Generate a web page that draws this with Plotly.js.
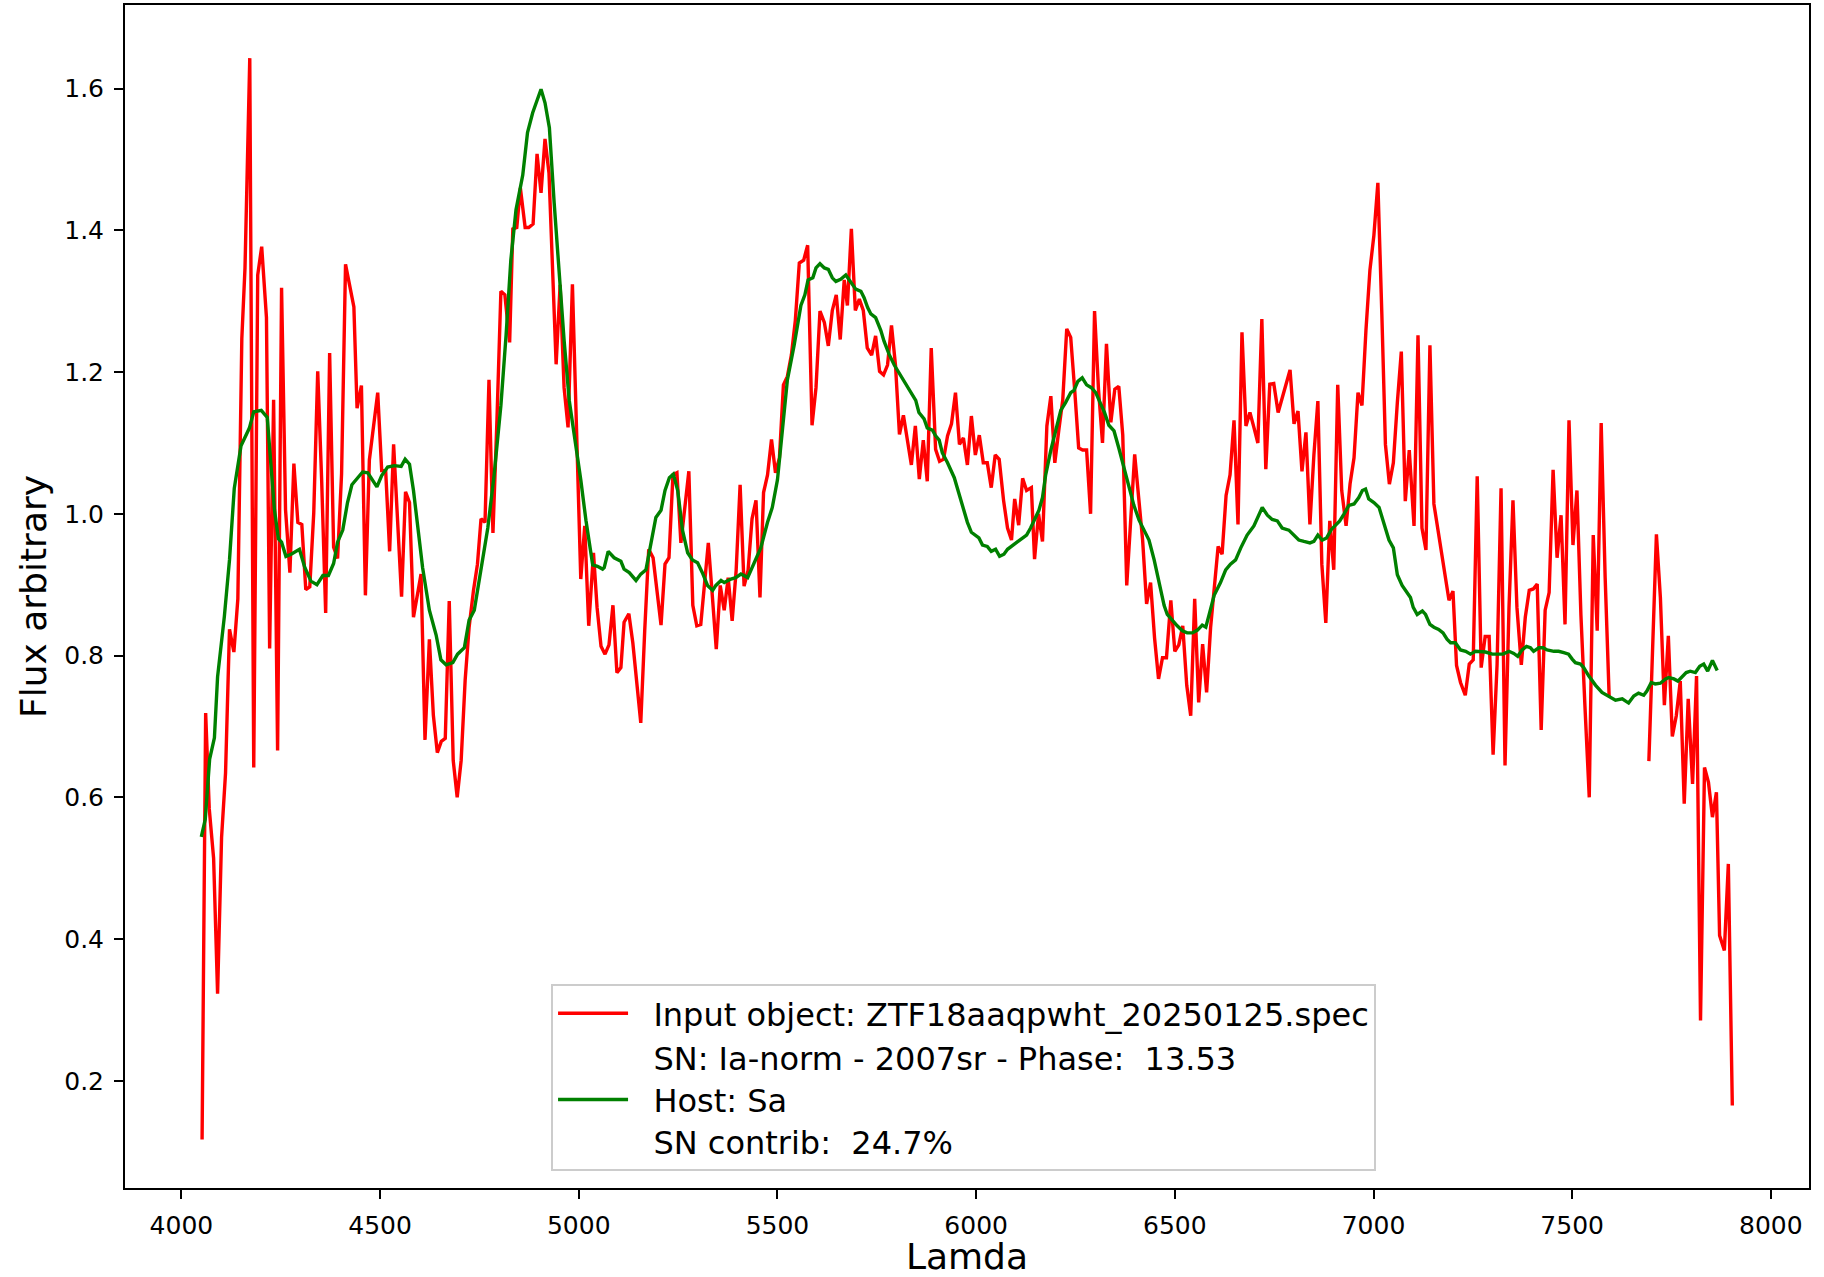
<!DOCTYPE html>
<html>
<head>
<meta charset="utf-8">
<script src="https://cdn.plot.ly/plotly-3.0.1.min.js"></script>
<style>html,body{margin:0;padding:0;background:#fff;}#chart{width:1824px;height:1277px;}</style>
</head>
<body>
<div id="chart"></div>
<script>
// Input object spectrum (red)
const inputLambda = [4052,4061,4070,4081,4091,4101,4111,4121,4132,4142,4152,4160,4172,4182,4192,4202,4214,4222,4232,4242,4252,4262,4273,4283,4293,4303,4313,4323,4333,4343,4353,4363,4373,4383,4393,4403,4413,4434,4442,4453,4463,4473,4494,4504,4514,4524,4534,4544,4554,4564,4574,4584,4603,4613,4624,4634,4644,4654,4664,4674,4684,4694,4704,4714,4724,4735,4745,4754,4764,4774,4784,4794,4804,4814,4826,4834,4844,4853,4865,4874,4885,4895,4905,4915,4925,4943,4953,4963,4973,4984,4994,5005,5015,5025,5037,5046,5056,5066,5076,5086,5096,5106,5114,5126,5136,5146,5156,5166,5176,5187,5197,5207,5217,5227,5237,5247,5257,5267,5277,5287,5297,5307,5317,5326,5336,5346,5356,5366,5376,5386,5396,5406,5416,5426,5436,5446,5456,5465,5475,5485,5495,5505,5515,5525,5535,5545,5555,5566,5576,5587,5597,5607,5618,5628,5638,5648,5658,5668,5676,5686,5696,5706,5716,5726,5737,5747,5757,5767,5777,5787,5797,5807,5817,5827,5837,5847,5857,5867,5877,5887,5898,5908,5918,5928,5938,5948,5958,5968,5978,5988,5998,6008,6018,6028,6038,6048,6058,6069,6079,6089,6097,6107,6117,6127,6139,6147,6157,6167,6178,6188,6198,6208,6218,6228,6238,6248,6258,6268,6278,6288,6298,6308,6318,6328,6339,6349,6359,6369,6379,6389,6399,6409,6419,6429,6439,6449,6459,6469,6479,6490,6500,6510,6520,6530,6540,6550,6560,6570,6580,6590,6598,6609,6619,6629,6639,6649,6659,6669,6679,6689,6699,6709,6719,6729,6739,6749,6760,6770,6780,6790,6800,6810,6820,6830,6840,6850,6860,6870,6880,6890,6900,6910,6920,6931,6941,6951,6961,6971,6981,6991,7001,7011,7021,7030,7040,7050,7060,7070,7080,7090,7102,7112,7122,7132,7142,7152,7190,7200,7209,7219,7231,7241,7251,7261,7271,7281,7291,7301,7311,7321,7331,7341,7351,7361,7372,7382,7392,7402,7412,7422,7432,7442,7452,7462,7472,7482,7492,7502,7512,7522,7532,7543,7553,7563,7573,7583,7593,7640,7693,7712,7722,7732,7742,7752,7762,7772,7782,7792,7803,7813,7823,7833,7843,7853,7863,7871,7883,7893,7903];
const inputFlux = [0.117,0.719,0.584,0.514,0.323,0.543,0.634,0.837,0.805,0.880,1.247,1.347,1.643,0.642,1.337,1.377,1.277,0.810,1.161,0.666,1.319,1.006,0.917,1.071,0.988,0.985,0.893,0.897,1.001,1.201,1.046,0.860,1.227,0.953,0.937,1.056,1.352,1.292,1.149,1.181,0.885,1.076,1.171,1.061,1.061,0.947,1.098,0.986,0.883,1.031,1.016,0.854,0.915,0.681,0.823,0.716,0.663,0.679,0.683,0.877,0.652,0.600,0.652,0.765,0.840,0.892,0.929,0.993,0.988,1.189,0.973,1.132,1.314,1.309,1.242,1.402,1.404,1.460,1.404,1.404,1.409,1.508,1.453,1.529,1.481,1.211,1.323,1.178,1.122,1.324,1.132,0.908,0.983,0.842,0.945,0.868,0.813,0.802,0.815,0.871,0.776,0.783,0.847,0.859,0.818,0.758,0.705,0.836,0.950,0.938,0.885,0.843,0.929,0.938,1.055,1.058,0.959,1.009,1.060,0.871,0.842,0.844,0.899,0.959,0.885,0.809,0.899,0.864,0.910,0.849,0.920,1.041,0.898,0.920,0.993,1.019,0.882,1.030,1.055,1.105,1.058,1.079,1.182,1.194,1.224,1.273,1.354,1.358,1.379,1.125,1.178,1.286,1.270,1.237,1.287,1.309,1.246,1.330,1.294,1.402,1.287,1.303,1.287,1.234,1.224,1.251,1.201,1.196,1.210,1.266,1.210,1.112,1.139,1.104,1.069,1.124,1.049,1.104,1.046,1.234,1.091,1.074,1.077,1.110,1.127,1.171,1.098,1.107,1.069,1.138,1.083,1.111,1.072,1.072,1.037,1.083,1.077,1.019,0.980,0.963,1.021,0.984,1.050,1.033,1.037,0.936,1.000,0.961,1.124,1.166,1.072,1.118,1.161,1.261,1.249,1.175,1.093,1.090,1.090,1.000,1.286,1.175,1.100,1.240,1.129,1.176,1.180,1.111,0.899,0.991,1.084,1.023,0.963,0.873,0.903,0.825,0.767,0.797,0.797,0.878,0.806,0.815,0.842,0.758,0.715,0.880,0.734,0.816,0.748,0.839,0.892,0.954,0.943,1.026,1.055,1.132,0.985,1.256,1.124,1.143,1.122,1.100,1.275,1.063,1.183,1.184,1.143,1.164,1.185,1.203,1.127,1.145,1.060,1.115,0.985,1.083,1.159,0.929,0.846,0.990,0.921,1.182,1.033,0.983,1.042,1.079,1.171,1.153,1.259,1.344,1.393,1.467,1.282,1.098,1.042,1.072,1.157,1.229,1.018,1.090,0.983,1.252,0.980,0.949,1.238,1.014,0.878,0.891,0.786,0.762,0.744,0.788,0.794,1.053,0.783,0.827,0.827,0.660,0.787,1.036,0.645,0.868,1.019,0.868,0.787,0.854,0.892,0.894,0.901,0.695,0.864,0.889,1.062,0.938,0.998,0.844,1.132,0.956,1.033,0.857,0.730,0.600,0.970,0.835,1.128,0.910,0.743,null,0.651,0.971,0.882,0.730,0.828,0.686,0.715,0.764,0.591,0.739,0.619,0.771,0.285,0.642,0.621,0.572,0.607,0.405,0.384,0.506,0.165];

// Template / host fit (green)
const fitLambda = [4050,4060,4071,4083,4091,4108,4121,4133,4150,4171,4182,4201,4216,4226,4234,4244,4252,4263,4276,4297,4310,4326,4341,4356,4370,4383,4393,4406,4418,4429,4444,4456,4469,4481,4492,4504,4519,4536,4553,4563,4574,4584,4595,4607,4624,4641,4653,4666,4683,4695,4712,4724,4737,4754,4771,4787,4804,4817,4829,4842,4859,4871,4884,4896,4905,4915,4926,4938,4951,4963,4976,4989,5005,5018,5029,5035,5047,5060,5064,5074,5089,5106,5114,5127,5144,5156,5169,5181,5194,5207,5217,5228,5238,5249,5261,5274,5286,5299,5311,5324,5337,5345,5358,5366,5383,5395,5408,5425,5441,5458,5475,5487,5500,5513,5525,5542,5559,5569,5577,5589,5597,5607,5618,5628,5638,5647,5659,5672,5685,5697,5710,5718,5727,5735,5747,5760,5768,5781,5794,5806,5819,5831,5848,5856,5869,5877,5890,5898,5907,5915,5928,5945,5961,5978,5988,5999,6007,6016,6028,6038,6049,6059,6070,6079,6095,6112,6127,6137,6146,6158,6167,6175,6188,6200,6213,6225,6238,6246,6256,6267,6278,6290,6301,6312,6323,6334,6347,6359,6372,6385,6397,6410,6422,6435,6448,6460,6473,6481,6494,6506,6519,6531,6544,6557,6569,6578,6586,6599,6615,6628,6640,6653,6666,6682,6699,6709,6720,6733,6745,6758,6770,6787,6800,6812,6825,6840,6850,6860,6871,6882,6894,6904,6915,6926,6938,6951,6963,6972,6980,6988,7001,7014,7024,7039,7050,7060,7072,7085,7093,7100,7110,7123,7131,7142,7152,7164,7175,7185,7194,7206,7219,7232,7244,7257,7269,7282,7299,7311,7326,7341,7353,7363,7374,7385,7395,7403,7416,7427,7437,7454,7466,7479,7491,7500,7508,7521,7529,7542,7559,7575,7596,7609,7626,7642,7655,7667,7680,7688,7699,7709,7722,7735,7743,7756,7766,7777,7787,7797,7810,7821,7831,7841,7853,7865];
const fitFlux = [0.544,0.569,0.654,0.684,0.770,0.855,0.935,1.036,1.096,1.121,1.144,1.146,1.136,1.066,1.006,0.965,0.960,0.940,0.943,0.950,0.925,0.905,0.900,0.913,0.913,0.930,0.960,0.977,1.016,1.041,1.051,1.059,1.058,1.048,1.038,1.054,1.066,1.068,1.067,1.077,1.070,1.033,0.984,0.924,0.864,0.829,0.794,0.787,0.790,0.802,0.811,0.850,0.864,0.921,0.980,1.055,1.153,1.252,1.358,1.429,1.478,1.538,1.566,1.585,1.599,1.580,1.545,1.439,1.330,1.245,1.160,1.111,1.048,0.991,0.949,0.928,0.926,0.922,0.924,0.947,0.938,0.933,0.922,0.917,0.906,0.915,0.921,0.956,0.995,1.005,1.033,1.051,1.056,1.033,0.977,0.945,0.935,0.931,0.917,0.899,0.892,0.899,0.906,0.903,0.908,0.910,0.915,0.910,0.931,0.952,0.988,1.009,1.048,1.118,1.189,1.238,1.294,1.309,1.330,1.333,1.347,1.353,1.347,1.345,1.333,1.328,1.331,1.337,1.326,1.317,1.314,1.305,1.291,1.282,1.277,1.259,1.244,1.225,1.210,1.199,1.185,1.174,1.160,1.143,1.134,1.121,1.118,1.110,1.104,1.086,1.072,1.051,1.019,0.988,0.974,0.970,0.966,0.956,0.954,0.947,0.950,0.940,0.943,0.950,0.957,0.964,0.970,0.980,0.992,1.005,1.023,1.055,1.090,1.118,1.146,1.157,1.171,1.174,1.187,1.192,1.182,1.178,1.171,1.157,1.143,1.125,1.117,1.093,1.065,1.037,1.012,0.991,0.977,0.963,0.935,0.906,0.871,0.858,0.849,0.842,0.835,0.832,0.832,0.836,0.843,0.840,0.857,0.885,0.903,0.921,0.929,0.935,0.952,0.970,0.983,0.995,1.009,0.998,0.992,0.990,0.980,0.977,0.970,0.963,0.961,0.959,0.961,0.970,0.963,0.966,0.978,0.984,0.990,1.000,1.012,1.014,1.023,1.033,1.035,1.021,1.016,1.009,0.991,0.963,0.952,0.914,0.899,0.889,0.882,0.868,0.858,0.863,0.858,0.844,0.840,0.837,0.832,0.823,0.818,0.818,0.808,0.806,0.802,0.806,0.806,0.805,0.802,0.802,0.802,0.806,0.803,0.799,0.808,0.813,0.811,0.806,0.811,0.811,0.808,0.806,0.806,0.804,0.802,0.795,0.790,0.788,0.783,0.771,0.758,0.748,0.741,0.737,0.739,0.733,0.743,0.747,0.744,0.750,0.762,0.760,0.761,0.767,0.769,0.767,0.764,0.771,0.776,0.778,0.776,0.785,0.788,0.778,0.793,0.779];

const inputName = "  Input object: ZTF18aaqpwht_20250125.spec";
const fitName = "  SN: Ia-norm - 2007sr - Phase:  13.53<br>  Host: Sa<br>  SN contrib:  24.7%";

const xTicks = [4000,4500,5000,5500,6000,6500,7000,7500,8000];
const yTicks = [0.2,0.4,0.6,0.8,1.0,1.2,1.4,1.6];
const yTickText = ["0.2","0.4","0.6","0.8","1.0","1.2","1.4","1.6"];

const traces = [
  {x: inputLambda, y: inputFlux, type: 'scatter', mode: 'lines', name: inputName,
   line: {color: '#ff0000', width: 3.4}, connectgaps: false},
  {x: fitLambda, y: fitFlux, type: 'scatter', mode: 'lines', name: fitName,
   line: {color: '#008000', width: 3.4}}
];

const font = 'DejaVu Sans, sans-serif';
const layout = {
  width: 1824, height: 1277,
  margin: {l: 125, r: 15, t: 5, b: 89},
  paper_bgcolor: '#ffffff', plot_bgcolor: '#ffffff',
  font: {family: font, color: '#000000'},
  showlegend: true,
  xaxis: {
    range: [3858, 8096], showgrid: false, zeroline: false,
    showline: true, mirror: true, linecolor: '#000000', linewidth: 2,
    ticks: 'outside', ticklen: 9, tickwidth: 2, tickcolor: '#000000',
    tickvals: xTicks, ticktext: xTicks.map(String), ticklabelstandoff: 5,
    tickfont: {family: font, size: 25, color: '#000000'},
    title: {text: 'Lamda', font: {family: font, size: 36, color: '#000000'}, standoff: 9}
  },
  yaxis: {
    range: [0.0487, 1.718], showgrid: false, zeroline: false,
    showline: true, mirror: true, linecolor: '#000000', linewidth: 2,
    ticks: 'outside', ticklen: 9, tickwidth: 2, tickcolor: '#000000',
    tickvals: yTicks, ticktext: yTickText, ticklabelstandoff: 5,
    tickfont: {family: font, size: 25, color: '#000000'},
    title: {text: 'Flux arbitrary', font: {family: font, size: 36, color: '#000000'}, standoff: 7}
  },
  legend: {
    x: 0.253, y: 0.0144, xanchor: 'left', yanchor: 'bottom',
    bgcolor: 'rgba(255,255,255,0.8)', bordercolor: '#cccccc', borderwidth: 2,
    font: {family: font, size: 32, color: '#000000'},
    itemwidth: 70, valign: 'middle', tracegroupgap: 0
  }
};

Plotly.newPlot('chart', traces, layout, {displayModeBar: false, staticPlot: true});
</script>
</body>
</html>
